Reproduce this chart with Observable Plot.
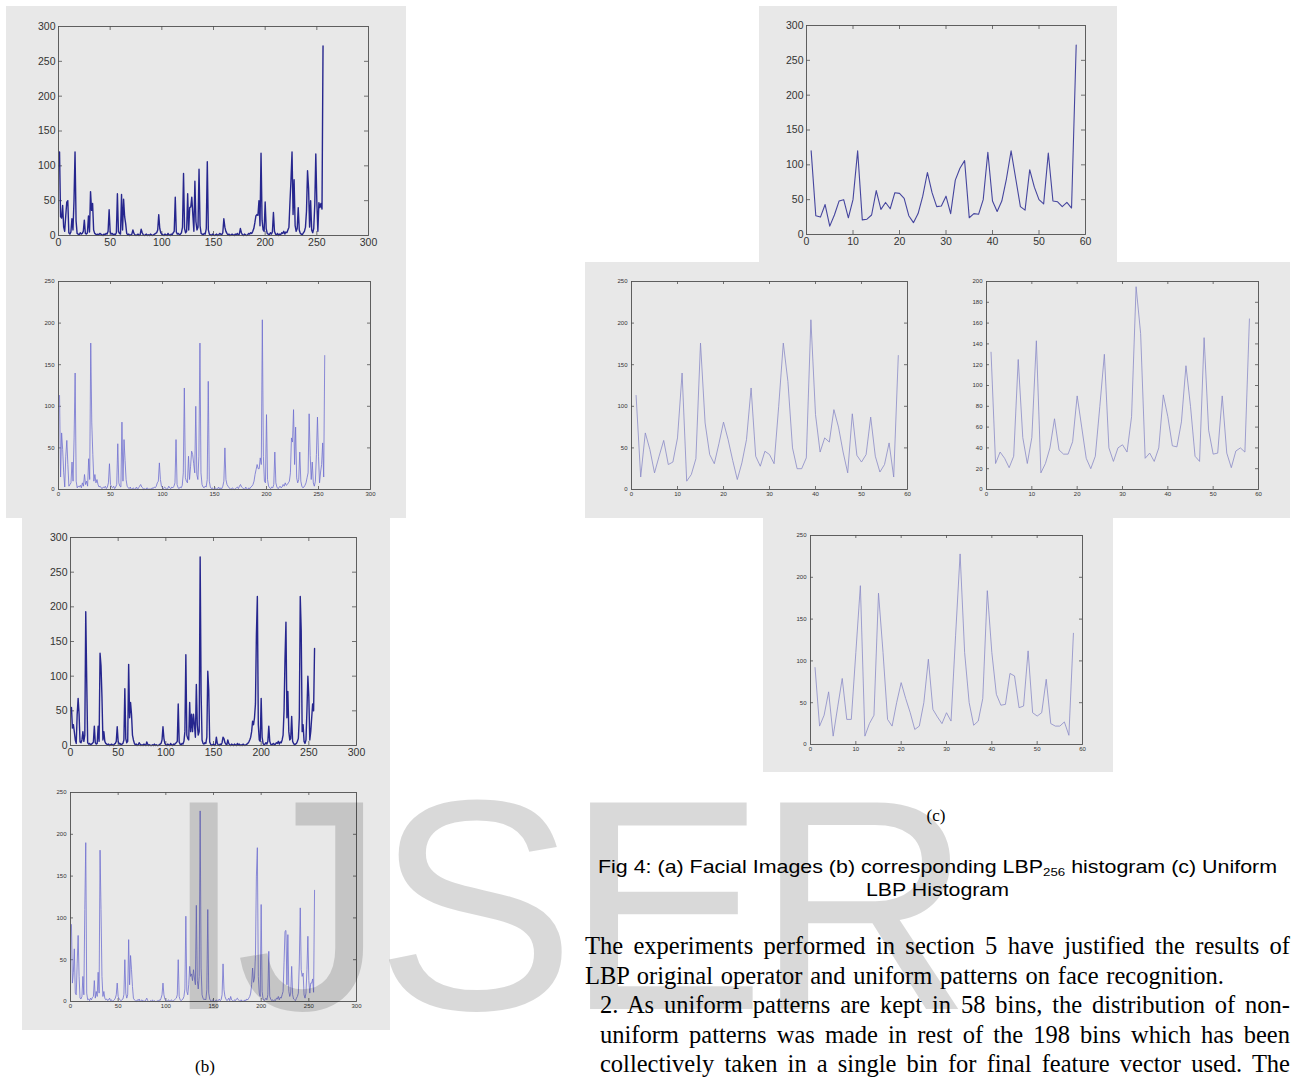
<!DOCTYPE html>
<html><head><meta charset="utf-8">
<script src="https://cdn.jsdelivr.net/npm/d3@7"></script>
<script src="https://cdn.jsdelivr.net/npm/@observablehq/plot@0.6"></script>
<style>
html,body{margin:0;padding:0;background:#fff;}
#page{position:relative;width:1293px;height:1078px;overflow:hidden;background:#fff;}
.panel{position:absolute;background:#e8e8e8;}
.panel svg{display:block;}
.serif{position:absolute;font-family:"Liberation Serif","Times New Roman",serif;color:#000;white-space:nowrap;}
.sans{position:absolute;font-family:"Liberation Sans Narrow","Arial Narrow","Liberation Sans",Arial,sans-serif;color:#000;white-space:nowrap;}
#wm{position:absolute;left:162px;top:798px;font-family:"Liberation Sans",Arial,sans-serif;font-size:300px;line-height:215px;letter-spacing:-10px;color:rgba(0,0,0,0.15);pointer-events:none;white-space:nowrap;}
</style></head>
<body><div id="page"></div>
<script>
// ---------- LBP256 histograms (bins 1..256) ----------
const lbpA1 = [
120,27,25,43,12,6,28,48,50,4,2,5,24,8,50,120,
21,3,2,1,4,2,3,6,22,3,2,4,28,5,63,36,
46,8,3,2,1,2,1,3,2,1,0,2,1,3,2,6,
37,5,2,3,1,2,1,4,60,6,3,2,59,8,52,27,
17,3,1,2,0,1,2,8,3,1,0,1,2,0,1,9,
4,1,0,1,2,0,1,0,2,1,0,1,2,3,4,8,
30,10,4,2,1,0,2,1,0,3,1,0,2,1,4,6,
55,5,2,3,1,2,4,12,89,10,4,6,60,8,40,41,
55,30,6,78,20,8,12,95,14,3,2,1,3,2,10,106,
8,2,1,0,2,1,0,1,2,0,1,3,2,1,4,24,
12,6,3,1,2,0,1,2,1,0,2,1,3,1,2,10,
4,1,0,2,1,0,1,3,2,4,3,6,10,18,28,30,
29,50,14,118,22,8,6,48,10,3,2,1,4,2,5,33,
6,2,1,3,0,2,1,4,3,6,2,5,4,8,12,48,
80,120,30,80,14,6,10,40,8,3,2,1,4,6,12,35,
93,68,12,50,8,4,10,44,117,48,6,47,40,46,38,272];
const lbpA2 = [
113,15,68,48,20,3,40,59,30,4,6,8,33,10,62,140,
10,2,4,3,5,2,8,4,18,6,10,4,37,12,176,80,
42,10,18,8,12,6,3,4,2,1,3,2,4,1,3,8,
31,6,3,2,4,1,3,6,55,8,4,3,81,10,60,35,
12,4,2,1,3,0,1,2,0,1,3,0,2,4,6,3,
2,0,1,0,2,1,0,1,0,2,1,3,2,4,8,10,
32,12,4,2,1,3,2,0,1,4,2,1,3,2,4,8,
60,6,2,1,3,2,5,20,122,14,10,8,40,12,28,46,
42,31,20,100,18,12,40,176,20,6,3,2,4,3,12,130,
10,3,1,2,0,1,2,0,1,3,0,2,1,4,10,50,
12,6,4,2,1,0,2,1,0,1,2,3,1,4,6,3,
2,1,0,3,1,0,2,1,3,4,6,10,18,24,30,25,
25,38,30,204,40,10,8,90,12,4,2,1,3,2,6,45,
8,3,1,2,4,2,3,6,4,8,5,6,8,10,20,62,
57,96,30,75,14,8,12,45,10,4,2,3,5,8,14,20,
91,41,12,33,8,4,10,42,87,40,8,21,30,56,15,161];
const lbpA3 = [
55,25,30,20,8,3,45,68,45,5,4,8,20,6,15,193,
95,4,2,3,1,2,3,5,28,4,2,3,28,6,133,115,
70,8,20,6,3,2,1,2,0,1,2,1,0,2,3,6,
27,6,2,3,1,2,3,8,82,10,4,6,117,40,62,45,
15,8,3,1,2,0,1,4,2,0,1,0,2,1,0,5,
2,0,1,0,0,1,0,2,0,1,0,0,1,2,3,8,
27,10,3,1,0,2,1,0,3,1,0,2,1,3,4,6,
60,5,2,1,3,2,6,20,131,15,10,8,62,20,45,20,
45,30,12,88,30,15,20,272,75,8,3,2,4,3,12,107,
80,5,2,0,1,2,0,1,12,3,1,0,2,1,4,12,
10,4,2,1,8,3,1,0,2,1,0,2,1,0,3,1,
2,0,1,0,2,1,0,1,2,3,5,8,12,20,35,30,
40,60,160,215,30,8,6,68,12,3,1,2,4,2,6,28,
6,2,1,2,3,1,2,4,3,6,2,5,4,8,15,50,
125,178,40,78,20,8,10,42,6,3,1,2,3,6,10,40,
215,166,20,30,6,3,8,50,100,70,8,20,40,60,50,140];
const lbpA4 = [
92,22,35,63,10,8,45,79,30,4,3,6,30,8,110,190,
10,2,3,1,4,2,5,6,25,4,12,6,35,10,181,110,
30,6,12,4,2,3,1,2,4,1,2,0,1,2,4,8,
22,6,3,2,1,2,3,8,50,10,4,8,74,20,55,38,
18,4,2,1,0,2,1,3,0,1,2,0,1,0,2,4,
1,0,0,1,0,2,0,1,0,0,1,0,2,1,4,8,
22,8,3,1,0,1,2,0,1,2,0,1,2,3,4,8,
50,6,2,1,2,3,6,15,102,12,8,20,42,30,33,25,
38,28,20,115,25,15,30,228,40,8,4,2,3,2,14,110,
10,3,1,0,2,1,0,1,2,0,1,3,1,2,8,45,
14,6,3,1,2,4,1,6,2,1,0,2,1,3,4,2,
1,0,2,0,1,0,2,1,3,2,4,6,10,20,40,23,
28,55,150,184,30,10,6,116,12,3,1,2,4,2,8,60,
6,3,1,2,0,2,1,4,3,6,2,5,4,8,12,47,
84,85,20,80,12,6,10,42,8,3,2,1,4,6,10,46,
112,38,30,34,8,4,10,38,78,25,10,22,22,27,11,133];

// ---------- Uniform LBP histograms (bins 1..58) ----------
const uniC1 = [120,27,25,43,12,28,48,50,24,50,120,21,22,28,63,36,46,37,60,59,52,27,17,30,55,89,60,40,41,55,30,78,95,106,24,30,29,50,118,48,33,48,80,120,80,40,35,93,68,50,44,117,48,47,40,46,38,272];
const uniC2 = [113,15,68,48,20,40,59,30,33,62,140,10,18,37,176,80,42,31,55,81,60,35,12,32,60,122,40,28,46,42,31,100,176,130,50,25,25,38,204,90,45,62,57,96,75,45,20,91,41,33,42,87,40,21,30,56,15,161];
const uniC3 = [132,25,36,30,21,32,125,50,25,50,143,16,25,40,68,38,34,34,46,90,60,30,20,32,80,130,40,27,40,43,36,70,195,150,30,35,27,40,91,70,42,41,65,119,80,32,27,146,57,34,35,90,35,21,37,40,36,164];
const uniC4 = [92,22,35,63,10,45,79,30,30,110,190,10,25,35,181,110,30,22,50,74,55,38,18,22,50,102,42,33,25,38,28,130,228,110,50,23,28,55,184,110,60,47,48,85,82,44,46,112,38,34,38,78,25,22,22,27,11,133];

// ---------- tick values ----------
const ticks256X = [0,50,100,150,200,250,300];
const ticksUniX = [0,10,20,30,40,50,60];
const ticksY300 = [0,50,100,150,200,250,300];
const ticksY250 = [0,50,100,150,200,250];
const ticksY200 = [0,20,40,60,80,100,120,140,160,180,200];

// ---------- texts ----------
const labelB = "(b)";
const labelC = "(c)";
const captionLines = ["Fig 4: (a) Facial Images (b) corresponding LBP<sub style='font-size:0.62em;vertical-align:-0.25em'>256</sub> histogram (c) Uniform", "LBP Histogram"];
const paraLines = [
  "The experiments performed in section 5 have justified the results of",
  "LBP original operator and uniform patterns on face recognition.",
  "2. As uniform patterns are kept in 58 bins, the distribution of non-",
  "uniform patterns was made in rest of the 198 bins which has been",
  "collectively taken in a single bin for final feature vector used. The"
];

const page = document.getElementById("page");

function chart(values, cfg) {
  const {box, frame, xt, yt, big, stroke, sw} = cfg;
  const ml = frame.l - box.x, mt = frame.t - box.y;
  const mr = box.x + box.w - frame.r, mb = box.y + box.h - frame.b;
  const pw = box.w - ml - mr, ph = box.h - mt - mb;
  const tl = big ? 4 : 3;
  const fs = big ? 10.5 : 6;
  const rows = values.map((v, i) => ({bin: i + 1, count: v}));
  const inX = xt.slice(1, -1), inY = yt.slice(1, -1);
  const edge = "#505050";
  const svg = Plot.plot({
    width: box.w, height: box.h,
    marginLeft: ml, marginRight: mr, marginTop: mt, marginBottom: mb,
    style: {background: "transparent", fontFamily: "'Liberation Sans', Arial, sans-serif", fontSize: fs + "px", color: "#333", overflow: "visible"},
    x: {domain: [xt[0], xt[xt.length - 1]], ticks: xt, tickSize: 0, tickPadding: big ? 3 : 2, label: null, tickFormat: d => String(d)},
    y: {domain: [yt[0], yt[yt.length - 1]], ticks: yt, tickSize: 0, tickPadding: big ? 3 : 4, label: null, tickFormat: d => String(d)},
    marks: [
      Plot.tickX(inX, {x: d => d, insetBottom: ph - tl, stroke: edge, strokeWidth: 0.8}),
      Plot.tickX(inX, {x: d => d, insetTop: ph - tl, stroke: edge, strokeWidth: 0.8}),
      Plot.tickY(inY, {y: d => d, insetRight: pw - tl, stroke: edge, strokeWidth: 0.8}),
      Plot.tickY(inY, {y: d => d, insetLeft: pw - tl, stroke: edge, strokeWidth: 0.8}),
      Plot.line(rows, {x: "bin", y: "count", stroke, strokeWidth: sw, strokeLinejoin: "round"}),
      Plot.frame({stroke: edge, strokeWidth: 0.9})
    ]
  });
  const div = document.createElement("div");
  div.className = "panel";
  Object.assign(div.style, {left: box.x + "px", top: box.y + "px", width: box.w + "px", height: box.h + "px"});
  div.appendChild(svg);
  page.appendChild(div);
}

const darkBlue = "#26268e", lightBlue = "#7070d0", midBlue = "#45459e", paleBlue = "#8a8ac6";

chart(lbpA1, {box: {x: 6, y: 6, w: 400, h: 256}, frame: {l: 58, t: 26, r: 368, b: 235}, xt: ticks256X, yt: ticksY300, big: true, stroke: darkBlue, sw: 1.4});
chart(lbpA2, {box: {x: 6, y: 262, w: 400, h: 256}, frame: {l: 58, t: 281, r: 370, b: 489}, xt: ticks256X, yt: ticksY250, big: false, stroke: lightBlue, sw: 0.8});
chart(lbpA3, {box: {x: 22, y: 518, w: 368, h: 256}, frame: {l: 70, t: 537, r: 356, b: 745}, xt: ticks256X, yt: ticksY300, big: true, stroke: darkBlue, sw: 1.4});
chart(lbpA4, {box: {x: 22, y: 774, w: 368, h: 256}, frame: {l: 70, t: 792, r: 356, b: 1001}, xt: ticks256X, yt: ticksY250, big: false, stroke: lightBlue, sw: 0.8});
chart(uniC1, {box: {x: 759, y: 6, w: 358, h: 256}, frame: {l: 806, t: 25, r: 1085, b: 234}, xt: ticksUniX, yt: ticksY300, big: true, stroke: midBlue, sw: 1.1});
chart(uniC2, {box: {x: 585, y: 262, w: 358, h: 256}, frame: {l: 631, t: 281, r: 907, b: 489}, xt: ticksUniX, yt: ticksY250, big: false, stroke: paleBlue, sw: 0.8});
chart(uniC3, {box: {x: 940, y: 262, w: 350, h: 256}, frame: {l: 986, t: 281, r: 1258, b: 489}, xt: ticksUniX, yt: ticksY200, big: false, stroke: paleBlue, sw: 0.8});
chart(uniC4, {box: {x: 763, y: 518, w: 350, h: 254}, frame: {l: 810, t: 535, r: 1082, b: 744}, xt: ticksUniX, yt: ticksY250, big: false, stroke: paleBlue, sw: 0.8});

// ---------- text ----------
function centered(cls, html, cx, cy, fs, targetW) {
  const s = document.createElement("div");
  s.className = cls;
  s.innerHTML = html;
  Object.assign(s.style, {fontSize: fs + "px", lineHeight: (fs + 4) + "px", top: (cy - (fs + 4) / 2) + "px", left: "0px"});
  page.appendChild(s);
  const w = s.getBoundingClientRect().width;
  let scale = 1;
  if (targetW) scale = targetW / w;
  s.style.transformOrigin = "0 50%";
  s.style.transform = "scaleX(" + scale + ")";
  s.style.left = (cx - w * scale / 2) + "px";
}
centered("serif", labelC, 936, 815, 17);
centered("serif", labelB, 205, 1066, 17);
centered("sans", captionLines[0], 937.5, 866, 19, 679);
centered("sans", captionLines[1], 937.5, 889, 19, 143);

const paraSpec = [
  {l: 585, r: 1290, y: 946},
  {l: 585, r: 1224, y: 976},
  {l: 600, r: 1290, y: 1005},
  {l: 600, r: 1290, y: 1035},
  {l: 600, r: 1290, y: 1064}
];
paraLines.forEach((t, i) => {
  const sp = paraSpec[i];
  const s = document.createElement("div");
  s.className = "serif";
  s.textContent = t;
  const fs = 24.5;
  Object.assign(s.style, {fontSize: fs + "px", lineHeight: "28px", top: (sp.y - 14) + "px", left: sp.l + "px"});
  page.appendChild(s);
  const w = s.getBoundingClientRect().width;
  const gaps = (t.match(/ /g) || []).length;
  s.style.wordSpacing = ((sp.r - sp.l - w) / gaps) + "px";
});

// ---------- watermark ----------
const wm = document.createElement("div");
wm.id = "wm";
wm.textContent = "IJSER";
page.appendChild(wm);
</script>
</body></html>
